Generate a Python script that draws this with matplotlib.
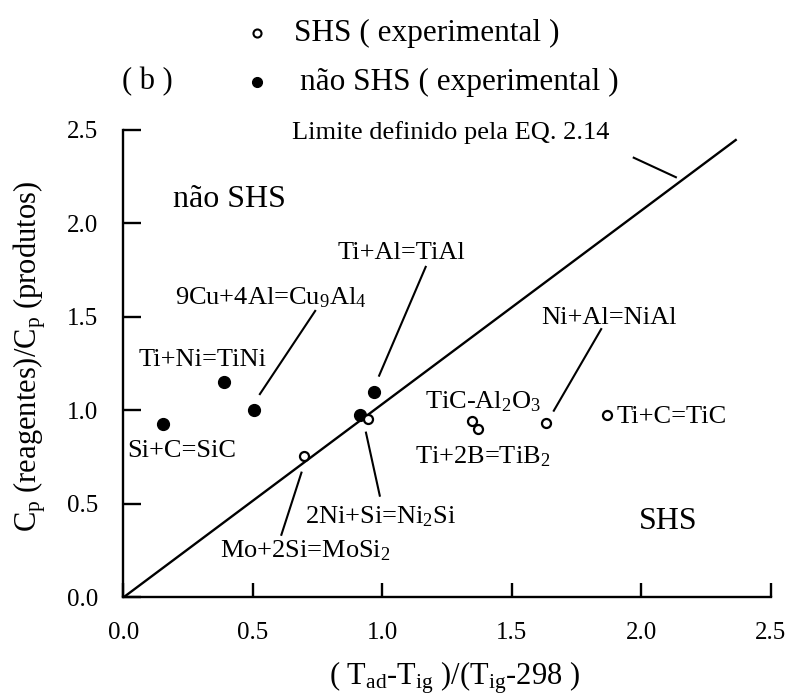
import numpy as np
import matplotlib
matplotlib.use('Agg')
import matplotlib.pyplot as plt

plt.rcParams['font.family'] = ['Liberation Serif', 'DejaVu Serif']
plt.rcParams['mathtext.fontset'] = 'custom'
plt.rcParams['mathtext.rm'] = 'Liberation Serif'
plt.rcParams['mathtext.it'] = 'Liberation Serif:italic'

# sistemas SHS (experimental) - circulos abertos
shs_nomes = ['Mo+2Si', '2Ni+Si', 'TiC-Al2O3', 'Ti+2B', 'Ni+Al', 'Ti+C']
shs_x = [0.699, 0.946, 1.345, 1.371, 1.632, 1.866]
shs_y = [0.758, 0.953, 0.944, 0.900, 0.932, 0.976]

# sistemas nao SHS (experimental) - circulos cheios
nao_nomes = ['Si+C', 'Ti+Ni', '9Cu+4Al', '?', 'Ti+Al']
nao_x = [0.154, 0.389, 0.503, 0.914, 0.968]
nao_y = [0.928, 1.154, 1.003, 0.976, 1.100]

# limite definido pela EQ. 2.14
lim_x = [0.0, 2.368]
lim_y = [0.0, 2.450]

ticks = [0.0, 0.5, 1.0, 1.5, 2.0, 2.5]
tick_labels = ['0.0', '0.5', '1.0', '1.5', '2.0', '2.5']

# rotulos das reacoes: texto, x, y
rotulos = [
    (r'9Cu+4Al=Cu$_{9}$Al$_{4}$', 0.200, 1.602),
    ('Ti+Al=TiAl', 0.829, 1.842),
    ('Ti+Ni=TiNi', 0.057, 1.270),
    ('Ni+Al=NiAl', 1.612, 1.495),
    (r'TiC-Al$_{2}$O$_{3}$', 1.165, 1.045),
    (r'Ti+2B=TiB$_{2}$', 1.126, 0.751),
    ('Ti+C=TiC', 1.906, 0.965),
    ('Si+C=SiC', 0.015, 0.783),
    (r'2Ni+Si=Ni$_{2}$Si', 0.702, 0.432),
    (r'Mo+2Si=MoSi$_{2}$', 0.374, 0.249),
    ('Limite definido pela EQ. 2.14', 0.651, 2.484),
]

# linhas de chamada dos rotulos
chamadas = [
    ((1.967, 2.354), (2.137, 2.245)),
    ((0.743, 1.537), (0.525, 1.083)),
    ((1.169, 1.773), (0.986, 1.181)),
    ((1.847, 1.440), (1.660, 0.994)),
    ((0.689, 0.673), (0.609, 0.330)),
    ((0.936, 0.887), (0.991, 0.539)),
]

fig = plt.figure(figsize=(7.92, 6.98), dpi=100)
ax = fig.add_axes([0.1557, 0.144, 0.8176, 0.6698])

ax.plot(lim_x, lim_y, color='black', lw=1.7, solid_capstyle='butt')
for p1, p2 in chamadas:
    ax.plot([p1[0], p2[0]], [p1[1], p2[1]], color='black', lw=1.5,
            solid_capstyle='butt')

ax.plot(nao_x, nao_y, 'o', color='black', ms=8.5, ls='none', zorder=4)
ax.plot(shs_x, shs_y, 'o', mfc='white', mec='black', ms=6.5, mew=1.6,
        ls='none', zorder=5)

for txt, x, y in rotulos:
    ax.text(x, y, txt, fontsize=19, ha='left', va='center', clip_on=False)

ax.text(0.192, 2.126, 'não SHS', fontsize=23, ha='left', va='center')
ax.text(1.991, 0.405, 'SHS', fontsize=23, ha='left', va='center')

ax.set_xlim(0, 2.5)
ax.set_ylim(0, 2.5)
ax.set_xticks(ticks)
ax.set_xticklabels(tick_labels)
ax.set_yticks(ticks)
ax.set_yticklabels(tick_labels)
ax.spines['top'].set_visible(False)
ax.spines['right'].set_visible(False)
ax.spines['left'].set_linewidth(1.7)
ax.spines['bottom'].set_linewidth(1.7)
ax.tick_params(axis='x', direction='in', length=10, width=1.7, pad=18,
               labelsize=18)
ax.tick_params(axis='y', direction='in', length=13, width=1.7, pad=18,
               labelsize=18)

# rotulos dos eixos
fig.text(30 / 792, 1 - 357 / 698,
         r'C$_{\mathrm{p}}$ (reagentes)/C$_{\mathrm{p}}$ (produtos)',
         rotation=90, ha='center', va='center', fontsize=22)
fig.text(454 / 792, 1 - 678 / 698,
         r'( T$_{\mathrm{ad}}$-T$_{\mathrm{ig}}$ )/(T$_{\mathrm{ig}}$-298 )',
         ha='center', va='center', fontsize=22)

# legenda no topo
fig.lines.append(plt.Line2D([256.7 / 792], [1 - 33.3 / 698], marker='o',
                            mfc='white', mec='black', ms=5.8, mew=1.5,
                            transform=fig.transFigure))
fig.lines.append(plt.Line2D([256.7 / 792], [1 - 81.7 / 698], marker='o',
                            color='black', ms=7, transform=fig.transFigure))
fig.text(294 / 792, 1 - 33 / 698, 'SHS ( experimental )', fontsize=22.5,
         ha='left', va='center')
fig.text(300 / 792, 1 - 82 / 698, 'não SHS ( experimental )', fontsize=22.5,
         ha='left', va='center')
fig.text(121.7 / 792, 1 - 82 / 698, '( b )', fontsize=22, ha='left',
         va='center')

fig.savefig('out.png', dpi=100)
